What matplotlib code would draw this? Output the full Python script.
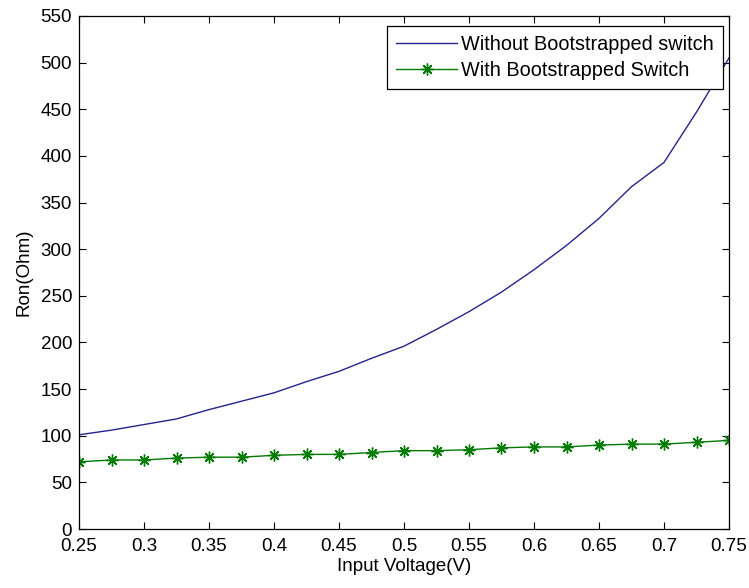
"""
Ron versus input voltage, with and without a bootstrapped switch.
"""

import matplotlib
matplotlib.use('Agg')
import matplotlib.pyplot as plt
from matplotlib.ticker import FormatStrFormatter

# Input voltage sweep (V)
voltage = [0.25, 0.275, 0.3, 0.325, 0.35, 0.375, 0.4, 0.425, 0.45, 0.475, 0.5,
           0.525, 0.55, 0.575, 0.6, 0.625, 0.65, 0.675, 0.7, 0.725, 0.75]

# On resistance (Ohm)
ronWithout = [101, 106, 112, 118, 128, 137, 146, 158, 169, 183, 196,
              214, 233, 254, 278, 304, 333, 367, 393, 447, 505]
ronWith = [72, 74, 74, 76, 77, 77, 79, 80, 80, 82, 84,
           84, 85, 87, 88, 88, 90, 91, 91, 93, 95]

seriesNames = ['Without Bootstrapped switch', 'With Bootstrapped Switch']
xTicks = [0.25, 0.3, 0.35, 0.4, 0.45, 0.5, 0.55, 0.6, 0.65, 0.7, 0.75]
yTicks = list(range(0, 551, 50))


def main():
    plt.rcParams['font.family'] = ['Liberation Sans', 'DejaVu Sans']
    plt.rcParams['font.size'] = 13.5

    fig = plt.figure(figsize=(7.49, 5.88), dpi=100)
    ax = fig.add_axes([79 / 749, 1 - 529 / 588, 650 / 749, 513 / 588])

    ax.plot(voltage, ronWithout, color='#24248c', linewidth=1.0, label=seriesNames[0])
    ax.plot(voltage, ronWith, color='#007a00', linewidth=1.0, marker=(8, 2, 0),
            markersize=8.5, markeredgewidth=1.0, label=seriesNames[1])

    ax.set_xlim(0.25, 0.75)
    ax.set_ylim(0, 550)
    ax.set_xticks(xTicks)
    ax.set_yticks(yTicks)
    ax.xaxis.set_major_formatter(FormatStrFormatter('%g'))
    ax.tick_params(direction='in', top=True, right=True, length=5, width=0.8)
    ax.tick_params(axis='x', pad=6.5)
    ax.tick_params(axis='y', pad=5)
    for s in ax.spines.values():
        s.set_linewidth(0.9)

    ax.set_xlabel('Input Voltage(V)', labelpad=2)
    ax.set_ylabel('Ron(Ohm)', labelpad=6)

    leg = ax.legend(loc='upper right', bbox_to_anchor=(0.9908, 0.9805), borderaxespad=0,
                    fancybox=False, framealpha=1, edgecolor='black', fontsize=14.3,
                    handlelength=3.1, handletextpad=0.2, borderpad=0.45, labelspacing=0.35)
    leg.get_frame().set_linewidth(0.9)

    fig.savefig('out.png', dpi=100, facecolor='white')


if __name__ == '__main__':
    main()
